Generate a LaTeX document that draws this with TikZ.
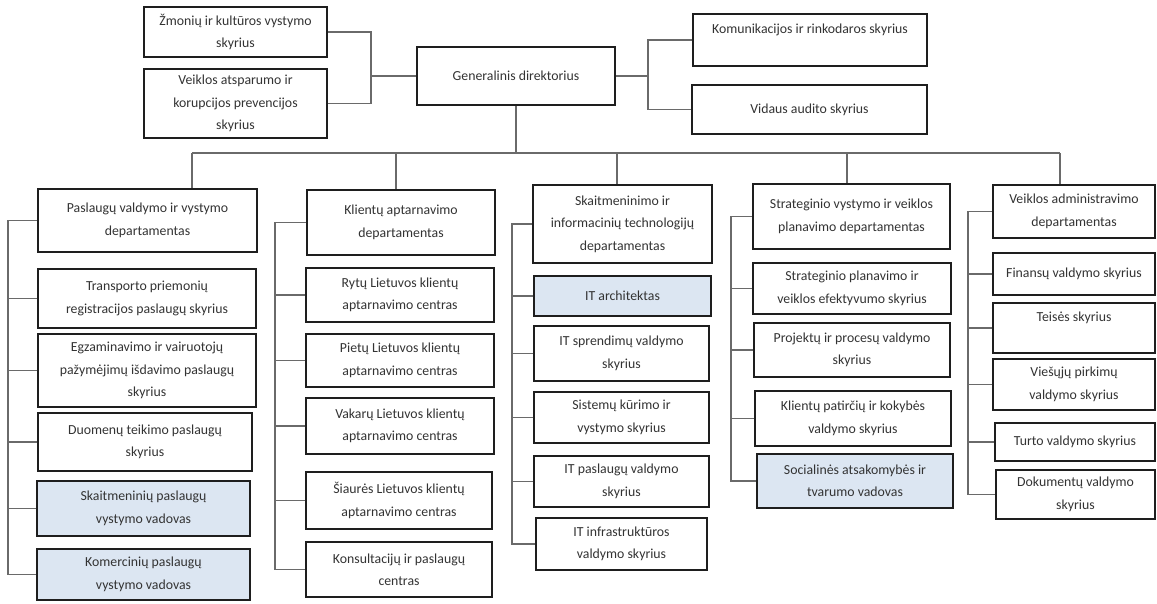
\documentclass[tikz,border=0pt]{standalone}
\usepackage{fontspec}
\setmainfont{Carlito}
\definecolor{bordercol}{HTML}{1E1E1E}
\definecolor{wirecol}{HTML}{6A6A6A}
\definecolor{textcol}{HTML}{333333}
\definecolor{lightblue}{HTML}{DCE6F2}
\tikzset{
  box/.style={draw=bordercol, line width=1.5pt, fill=white, inner sep=0pt, align=center,
    font=\fontsize{13.8}{22.5}\selectfont, text=textcol},
  deptbox/.style={box, line width=2.9pt},
  bluebox/.style={box, fill=lightblue},
  wire/.style={draw=wirecol, line width=1.1pt}
}
\begin{document}
\begin{tikzpicture}[x=1pt,y=-1pt]
\useasboundingbox[fill=white] (0,0) rectangle (1157,603);
% top level
\node[box, minimum width=183pt, minimum height=50pt] (zm) at (235.5,32) {Žmonių ir kultūros vystymo\\skyrius};
\node[box, minimum width=183pt, minimum height=69pt] (va) at (235.5,103.5) {Veiklos atsparumo ir\\korupcijos prevencijos\\skyrius};
\node[deptbox, minimum width=198pt, minimum height=58pt] (gd) at (516,76) {Generalinis direktorius};
\node[box, minimum width=234pt, minimum height=52pt] (km) at (810,40) {Komunikacijos ir rinkodaros skyrius\\\phantom{x}};
\node[box, minimum width=235pt, minimum height=49pt] (vd) at (809.5,109.5) {Vidaus audito skyrius};
\coordinate (jl) at (371,76);
\coordinate (jr) at (648,76);
\draw[wire] (zm.east) -| (jl) |- (va.east);
\draw[wire] (jl) -- (gd.west);
\draw[wire] (gd.east) -- (jr);
\draw[wire] (km.west) -| (jr) |- (vd.west);
% departments
\node[deptbox, minimum width=219pt, minimum height=63pt] (d1) at (147.5,220.5) {Paslaugų valdymo ir vystymo\\departamentas};
\node[deptbox, minimum width=188pt, minimum height=65pt] (d2) at (401,222.5) {Klientų aptarnavimo\\departamentas};
\node[deptbox, minimum width=179pt, minimum height=78pt] (d3) at (622.5,224) {Skaitmeninimo ir\\informacinių technologijų\\departamentas};
\node[deptbox, minimum width=197pt, minimum height=65pt] (d4) at (851.5,216.5) {Strateginio vystymo ir veiklos\\planavimo departamentas};
\node[deptbox, minimum width=162pt, minimum height=53pt] (d5) at (1074,211.5) {Veiklos administravimo\\departamentas};
% bus
\coordinate (b1) at (192,153);
\coordinate (b2) at (396,153);
\coordinate (b3) at (617,153);
\coordinate (b4) at (847,153);
\coordinate (b5) at (1060,153);
\draw[wire] (gd.south) -- (gd.south |- b1);
\draw[wire] (b1) -- (b5);
\draw[wire] (b1) -- (b1 |- d1.north);
\draw[wire] (b2) -- (b2 |- d2.north);
\draw[wire] (b3) -- (b3 |- d3.north);
\draw[wire] (b4) -- (b4 |- d4.north);
\draw[wire] (b5) -- (b5 |- d5.north);
% column 1
\node[box, minimum width=218pt, minimum height=59pt] (c11) at (147,298.5) {Transporto priemonių\\registracijos paslaugų skyrius};
\node[box, minimum width=218pt, minimum height=73pt] (c12) at (147,370.5) {Egzaminavimo ir vairuotojų\\pažymėjimų išdavimo paslaugų\\skyrius};
\node[box, minimum width=214pt, minimum height=58pt] (c13) at (145,442) {Duomenų teikimo paslaugų\\skyrius};
\node[bluebox, minimum width=213pt, minimum height=55pt] (c14) at (143.5,508.5) {Skaitmeninių paslaugų\\vystymo vadovas};
\node[bluebox, minimum width=213pt, minimum height=51pt] (c15) at (143.5,574.5) {Komercinių paslaugų\\vystymo vadovas};
\coordinate (k1) at (8,0);
\draw[wire] (d1.west) -- (d1.west -| k1) |- (c15.west);
\foreach \n in {c11,c12,c13,c14} \draw[wire] (\n.west) -- (\n.west -| k1);
% column 2
\node[box, minimum width=188pt, minimum height=54pt] (c21) at (400,295) {Rytų Lietuvos klientų\\aptarnavimo centras};
\node[box, minimum width=188pt, minimum height=53pt] (c22) at (400,360.5) {Pietų Lietuvos klientų\\aptarnavimo centras};
\node[box, minimum width=188pt, minimum height=56pt] (c23) at (400,426) {Vakarų Lietuvos klientų\\aptarnavimo centras};
\node[box, minimum width=186pt, minimum height=57pt] (c24) at (399,500.5) {Šiaurės Lietuvos klientų\\aptarnavimo centras};
\node[box, minimum width=186pt, minimum height=55pt] (c25) at (399,569.5) {Konsultacijų ir paslaugų\\centras};
\coordinate (k2) at (275,0);
\draw[wire] (d2.west) -- (d2.west -| k2) |- (c25.west);
\foreach \n in {c21,c22,c23,c24} \draw[wire] (\n.west) -- (\n.west -| k2);
% column 3
\node[bluebox, minimum width=177pt, minimum height=40pt] (c31) at (622.5,296) {IT architektas};
\node[box, minimum width=175pt, minimum height=55pt] (c32) at (621.5,353.5) {IT sprendimų valdymo\\skyrius};
\node[box, minimum width=175pt, minimum height=51pt] (c33) at (621.5,417.5) {Sistemų kūrimo ir\\vystymo skyrius};
\node[box, minimum width=175pt, minimum height=51pt] (c34) at (621.5,481.5) {IT paslaugų valdymo\\skyrius};
\node[box, minimum width=171pt, minimum height=52pt] (c35) at (621.5,544) {IT infrastruktūros\\valdymo skyrius};
\coordinate (k3) at (512,0);
\draw[wire] (d3.west) -- (d3.west -| k3) |- (c35.west);
\foreach \n in {c31,c32,c33,c34} \draw[wire] (\n.west) -- (\n.west -| k3);
% column 4
\node[box, minimum width=198pt, minimum height=51pt] (c41) at (852,288.5) {Strateginio planavimo ir\\veiklos efektyvumo skyrius};
\node[box, minimum width=196pt, minimum height=54pt] (c42) at (852,350) {Projektų ir procesų valdymo\\skyrius};
\node[box, minimum width=196pt, minimum height=55pt] (c43) at (853,418.5) {Klientų patirčių ir kokybės\\valdymo skyrius};
\node[bluebox, minimum width=196pt, minimum height=54pt] (c44) at (855,481) {Socialinės atsakomybės ir\\tvarumo vadovas};
\coordinate (k4) at (731,0);
\draw[wire] (d4.west) -- (d4.west -| k4) |- (c44.west);
\foreach \n in {c41,c42,c43} \draw[wire] (\n.west) -- (\n.west -| k4);
% column 5
\node[box, minimum width=162pt, minimum height=42pt] (c51) at (1074,274) {Finansų valdymo skyrius};
\node[box, minimum width=162pt, minimum height=50pt] (c52) at (1074,328) {Teisės skyrius\\\phantom{x}};
\node[box, minimum width=162pt, minimum height=51pt] (c53) at (1074,384.5) {Viešųjų pirkimų\\valdymo skyrius};
\node[box, minimum width=160pt, minimum height=38pt] (c54) at (1075,442) {Turto valdymo skyrius};
\node[box, minimum width=159pt, minimum height=49pt] (c55) at (1075.5,494.5) {Dokumentų valdymo\\skyrius};
\coordinate (k5) at (968,0);
\draw[wire] (d5.west) -- (d5.west -| k5) |- (c55.west);
\foreach \n in {c51,c52,c53,c54} \draw[wire] (\n.west) -- (\n.west -| k5);
\end{tikzpicture}
\end{document}
